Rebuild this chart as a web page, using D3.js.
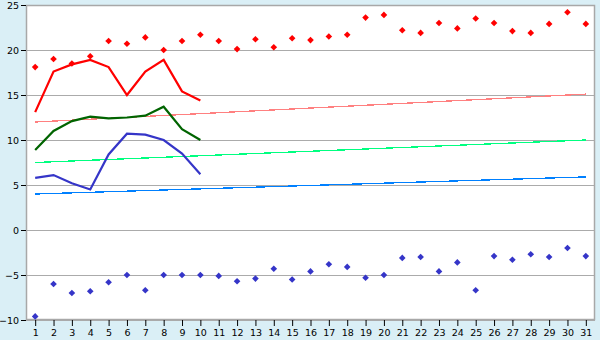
<!DOCTYPE html>
<html>
<head>
<meta charset="utf-8">
<script src="https://cdn.jsdelivr.net/npm/d3@7"></script>
<style>
  body { margin: 0; background: #daeff6; }
  svg { display: block; }
  text { font-family: "DejaVu Sans", Verdana, sans-serif; font-size: 9.5px; fill: #000; }
</style>
</head>
<body>
<svg id="chart" width="600" height="340"></svg>
<script>
// Days of the month
var days = d3.range(1, 32);

// Marker series (one value per day)
var highPoints = [18.1, 19.0, 18.5, 19.3, 21.0, 20.7, 21.4, 20.0, 21.0, 21.7,
                  21.0, 20.1, 21.2, 20.3, 21.3, 21.1, 21.5, 21.7, 23.6, 23.9,
                  22.2, 21.9, 23.0, 22.4, 23.5, 23.0, 22.1, 21.9, 22.9, 24.2, 22.9];
var lowPoints = [-9.6, -6.0, -7.0, -6.8, -5.8, -5.0, -6.7, -5.0, -5.0, -5.0,
                 -5.1, -5.7, -5.4, -4.3, -5.5, -4.6, -3.8, -4.1, -5.3, -5.0,
                 -3.1, -3.0, -4.6, -3.6, -6.7, -2.9, -3.3, -2.7, -3.0, -2.0, -2.9];

// Line series (days 1-10)
var redLine = [13.1, 17.6, 18.4, 18.9, 18.1, 15.0, 17.6, 18.9, 15.4, 14.4];
var greenLine = [8.9, 11.0, 12.1, 12.6, 12.4, 12.5, 12.7, 13.7, 11.2, 10.0];
var blueLine = [5.8, 6.1, 5.2, 4.5, 8.4, 10.7, 10.6, 10.0, 8.5, 6.2];

// Trend lines: value at day 1 and at day 31
var trendDays = [1, 31];
var pinkTrend = [12.0, 15.1];
var mintTrend = [7.5, 10.0];
var skyTrend = [4.0, 5.9];

var yTicks = [-10, -5, 0, 5, 10, 15, 20, 25];

var svg = d3.select("#chart");
var margin = {top: 5, left: 26, bottom: 20, right: 5};
var width = +svg.attr("width") - margin.left - margin.right;
var height = +svg.attr("height") - margin.top - margin.bottom;

var xScale = d3.scaleLinear().domain([0.5, 31.5]).range([0, width]);
var yScale = d3.scaleLinear().domain([-10, 25]).range([height, 0]);

var g = svg.append("g")
    .attr("transform", "translate(" + [margin.left, margin.top] + ")");

// Plot background
g.append("rect")
    .attr("width", width)
    .attr("height", height)
    .attr("fill", "#fff");

// Grid lines
g.selectAll(".grid")
    .data(yTicks)
    .enter()
    .append("line")
    .attr("class", "grid")
    .attr("x1", 0)
    .attr("x2", width)
    .attr("y1", function(d) { return Math.round(yScale(d)) + 0.5; })
    .attr("y2", function(d) { return Math.round(yScale(d)) + 0.5; })
    .attr("stroke", "#ababab")
    .attr("stroke-width", 1.2);

// Border
g.append("rect")
    .attr("x", 0.5).attr("y", 0.5)
    .attr("width", width - 1)
    .attr("height", height - 1)
    .attr("fill", "none")
    .attr("stroke", "#a8a8a8")
    .attr("stroke-width", 1.5);

// Axes
var xAxis = d3.axisBottom(xScale).tickValues(days).tickSize(6).tickPadding(3).tickFormat(d3.format("d"));
var xAxisG = g.append("g")
    .attr("transform", "translate(0," + height + ")")
    .call(xAxis);

var yAxis = d3.axisLeft(yScale).tickValues(yTicks).tickSize(5).tickPadding(2)
    .tickFormat(function(d) { return d < 0 ? "\u2212" + Math.abs(d) : d; });
var yAxisG = g.append("g").call(yAxis);

[xAxisG, yAxisG].forEach(function(a) {
    a.select(".domain").remove();
    a.selectAll("line").attr("stroke", "#000");
    a.selectAll("text").style("font-family", "'DejaVu Sans', Verdana, sans-serif").style("font-size", "9.5px");
});

// Trend lines
function drawTrend(values, color) {
    var pts = trendDays.map(function(d, i) { return [d, values[i]]; });
    g.append("path")
        .datum(pts)
        .attr("d", d3.line()
            .x(function(d) { return xScale(d[0]); })
            .y(function(d) { return yScale(d[1]); }))
        .attr("fill", "none")
        .attr("stroke", color)
        .attr("stroke-width", 1.3)
        .attr("shape-rendering", "crispEdges");
}
drawTrend(pinkTrend, "#ff8080");
drawTrend(mintTrend, "#00ff80");
drawTrend(skyTrend, "#0080ff");

// Data lines
function drawLine(values, color) {
    g.append("path")
        .datum(values)
        .attr("d", d3.line()
            .x(function(d, i) { return xScale(days[i]); })
            .y(function(d) { return yScale(d); }))
        .attr("fill", "none")
        .attr("stroke", color)
        .attr("stroke-width", 2.2);
}
drawLine(redLine, "#ff0000");
drawLine(greenLine, "#006400");
drawLine(blueLine, "#3535c8");

// Markers
var marker = d3.symbol().type(d3.symbolSquare).size(22);
function drawMarkers(values, color) {
    g.selectAll(null)
        .data(values)
        .enter()
        .append("path")
        .attr("d", marker)
        .attr("transform", function(d, i) {
            return "translate(" + [xScale(days[i]), yScale(d)] + ") rotate(45)";
        })
        .attr("fill", color);
}
drawMarkers(highPoints, "#ff0000");
drawMarkers(lowPoints, "#3535c8");
</script>
</body>
</html>
